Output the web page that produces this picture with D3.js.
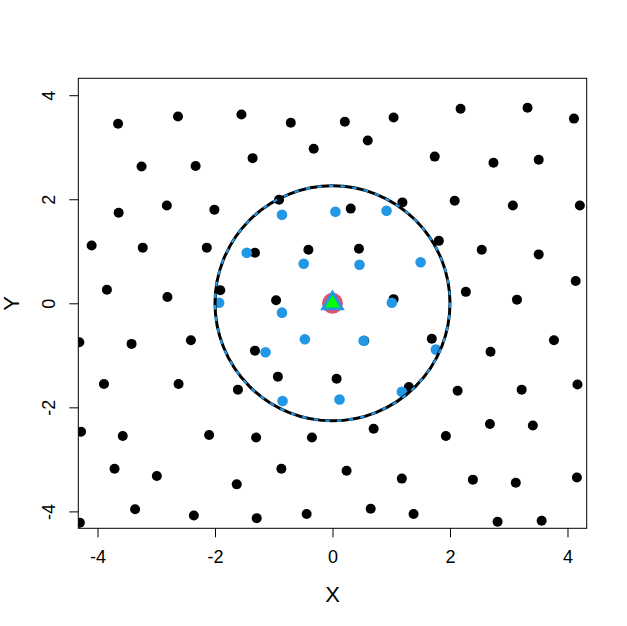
<!DOCTYPE html>
<html>
<head>
<meta charset="utf-8">
<script src="https://d3js.org/d3.v7.min.js"></script>
<style>
  body { margin: 0; background: #fff; }
  text { font-family: "Liberation Sans", Arial, sans-serif; }
</style>
</head>
<body>
<svg id="chart" width="627" height="626"></svg>
<script>
// lattice points (black)
const blackX = [-3.65, -2.63, -1.55, -0.71, -0.32, -3.25, -2.33, -1.36, -3.64, -2.82, -2.01, -0.91,
  -4.10, -3.23, -2.14, -1.32, -0.41, -3.84, -2.81, -1.91, -0.96,
  1.50, 0.21, 1.04, 2.18, 3.32, 4.11, 0.60, 1.74, 2.74, 3.51, 0.31, 1.19, 2.08, 3.07, 4.21,
  0.45, 1.81, 2.54, 3.51, 4.14, 1.04, 2.27, 3.14,
  -4.31, -3.42, -2.41, -1.32, -3.89, -2.62, -1.61, -0.93, 0.07, -4.28, -3.57, -2.10, -1.30, -0.35,
  -3.71, -2.99, -1.63, -0.87, -3.36, -2.36, -1.29, -0.44, -4.30,
  0.54, 1.69, 3.77, 2.69, 1.30, 2.13, 3.22, 4.17, 0.70, 1.93, 2.68, 3.41,
  0.24, 1.18, 2.39, 3.12, 4.16, 0.65, 1.38, 2.81, 3.56];
const blackY = [3.45, 3.59, 3.63, 3.47, 2.97, 2.63, 2.64, 2.79, 1.74, 1.88, 1.80, 1.99,
  1.11, 1.07, 1.07, 0.97, 1.03, 0.26, 0.12, 0.25, 0.06,
  4.43, 3.49, 3.57, 3.74, 3.76, 3.55, 3.13, 2.82, 2.70, 2.76, 1.82, 1.94, 1.97, 1.88, 1.88,
  1.05, 1.20, 1.03, 0.94, 0.43, 0.08, 0.22, 0.07,
  -0.75, -0.78, -0.71, -0.91, -1.55, -1.55, -1.66, -1.41, -1.45, -2.47, -2.55, -2.53, -2.58, -2.58,
  -3.18, -3.32, -3.48, -3.18, -3.96, -4.08, -4.13, -4.05, -4.22,
  -0.72, -0.68, -0.71, -0.93, -1.61, -1.68, -1.66, -1.56, -2.41, -2.55, -2.32, -2.35,
  -3.22, -3.37, -3.39, -3.45, -3.35, -3.95, -4.05, -4.20, -4.18];

// points inside the neighbourhood (blue)
const blueX = [-0.86, 0.05, 0.92, -1.46, -0.49, 0.46, 1.50, -1.93, 1.01, -0.86, -0.47, 0.53, -1.14, 1.76, -0.85, 0.12, 1.18];
const blueY = [1.70, 1.76, 1.78, 0.97, 0.76, 0.74, 0.79, 0.01, 0.01, -0.18, -0.69, -0.72, -0.94, -0.89, -1.88, -1.85, -1.70];

const centre = [0, 0];
const radius = 2.0;
const xTicks = [-4, -2, 0, 2, 4];
const yTicks = [-4, -2, 0, 2, 4];

const svg = d3.select("#chart");
const pLeft = 78.3, pRight = 586.7, pTop = 78.3, pBottom = 528.3;

const x = d3.scaleLinear().domain([-4.327, 4.327]).range([pLeft, pRight]);
const y = d3.scaleLinear().domain([-4.325, 4.325]).range([pBottom, pTop]);

svg.append("clipPath").attr("id", "plotclip")
  .append("rect").attr("x", pLeft).attr("y", pTop)
  .attr("width", pRight - pLeft).attr("height", pBottom - pTop);

const plot = svg.append("g").attr("clip-path", "url(#plotclip)");

plot.selectAll("circle.black").data(d3.zip(blackX, blackY))
  .join("circle").attr("class", "black")
  .attr("cx", d => x(d[0])).attr("cy", d => y(d[1]))
  .attr("r", 5).attr("fill", "black");

plot.selectAll("circle.blue").data(d3.zip(blueX, blueY))
  .join("circle").attr("class", "blue")
  .attr("cx", d => x(d[0])).attr("cy", d => y(d[1]))
  .attr("r", 5.3).attr("fill", "#2297E6");

// neighbourhood circle: solid black under blue dashes
const rpx = x(radius) - x(0);
plot.append("circle")
  .attr("cx", x(centre[0])).attr("cy", y(centre[1])).attr("r", rpx)
  .attr("fill", "none").attr("stroke", "black").attr("stroke-width", 3);
plot.append("circle")
  .attr("cx", x(centre[0])).attr("cy", y(centre[1])).attr("r", rpx)
  .attr("fill", "none").attr("stroke", "#2297E6").attr("stroke-width", 2.2)
  .attr("stroke-dasharray", "4.5,7.2");

// centre markers
plot.append("circle")
  .attr("cx", x(centre[0])).attr("cy", y(centre[1])).attr("r", 10.5)
  .attr("fill", "#DF536B");
plot.append("path")
  .attr("transform", `translate(${x(centre[0])},${y(centre[1])})`)
  .attr("d", "M0,-11L-9.8,5.5L9.8,5.5Z")
  .attr("fill", "#00FF00").attr("stroke", "#2297E6")
  .attr("stroke-width", 2.8).attr("stroke-linejoin", "miter");

// frame
svg.append("rect").attr("x", pLeft).attr("y", pTop)
  .attr("width", pRight - pLeft).attr("height", pBottom - pTop)
  .attr("fill", "none").attr("stroke", "black").attr("stroke-width", 1);

// axes
const xAxis = svg.append("g").attr("transform", `translate(0,${pBottom})`)
  .call(d3.axisBottom(x).tickValues(xTicks).tickSize(9).tickFormat(d => String(d)));
xAxis.select(".domain").remove();
xAxis.selectAll("line").attr("stroke", "black");
xAxis.selectAll("text").attr("y", 34.4).attr("dy", null)
  .attr("font-size", 18).attr("fill", "black")
  .style("font-family", '"Liberation Sans", Arial, sans-serif');

const yAxis = svg.append("g").attr("transform", `translate(${pLeft},0)`)
  .call(d3.axisLeft(y).tickValues(yTicks).tickSize(9).tickFormat(d => String(d)));
yAxis.select(".domain").remove();
yAxis.selectAll("line").attr("stroke", "black");
yAxis.selectAll("text").attr("x", null).attr("dy", null)
  .attr("transform", "translate(-23.3,0) rotate(-90)")
  .attr("text-anchor", "middle")
  .attr("font-size", 18).attr("fill", "black")
  .style("font-family", '"Liberation Sans", Arial, sans-serif');

svg.append("text").attr("x", (pLeft + pRight) / 2).attr("y", 601.7)
  .attr("text-anchor", "middle").attr("font-size", 22).text("X");
svg.append("text")
  .attr("transform", `translate(19,${(pTop + pBottom) / 2}) rotate(-90)`)
  .attr("text-anchor", "middle").attr("font-size", 22).text("Y");
</script>
</body>
</html>
